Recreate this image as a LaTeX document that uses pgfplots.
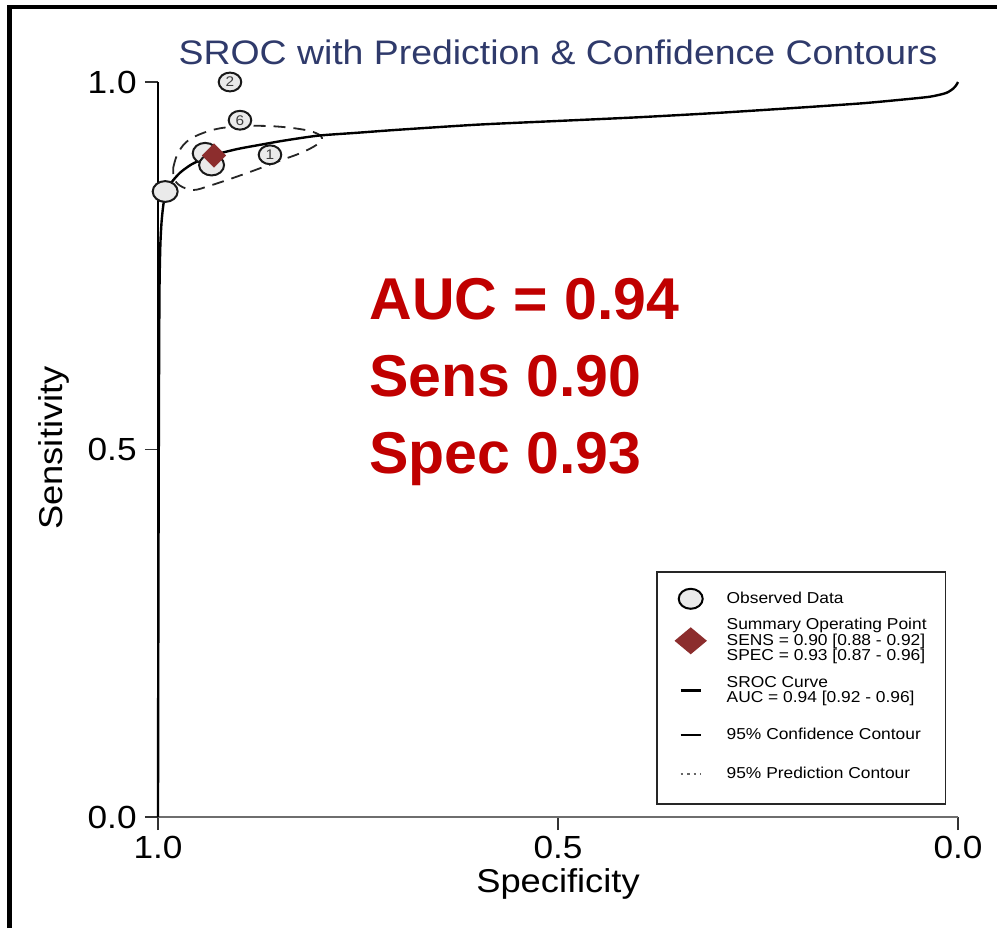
\documentclass[border=0pt]{standalone}
\usepackage{fontspec}
\setmainfont{Liberation Sans}
\newfontfamily\chartfont[FakeStretch=1.1]{Liberation Sans}
\usepackage{pgfplots}
\pgfplotsset{compat=1.18}

\definecolor{titleblue}{RGB}{47,58,107}
\definecolor{sumred}{RGB}{140,45,45}
\definecolor{bigred}{RGB}{192,0,0}
\definecolor{ptfill}{RGB}{234,234,234}
\definecolor{xlinegray}{RGB}{110,110,110}

\begin{document}
\begin{tikzpicture}
\useasboundingbox (0,0) rectangle (498.5pt,464pt);
\fill[white] (0,0) rectangle (498.5pt,464pt);

\begin{axis}[
  at={(79pt,55.5pt)}, anchor=south west,
  scale only axis, width=400pt, height=367.5pt,
  xmin=0, xmax=1, ymin=0, ymax=1,
  x dir=reverse,
  axis x line*=bottom, axis y line*=left,
  x axis line style={-, line width=1.3pt, xlinegray},
  y axis line style={-, line width=1pt, black},
  clip=false,
  xtick={0,0.5,1}, ytick={0,0.5,1},
  xticklabels={0.0,0.5,1.0}, yticklabels={0.0,0.5,1.0},
  /pgf/number format/assume math mode=true,
  tick align=outside, major tick length=6.5pt,
  tick style={black!80, line width=0.8pt},
  tick label style={font=\chartfont\fontsize{16}{18}\selectfont},
  xticklabel style={inner sep=3pt},
  yticklabel style={inner sep=4pt},
  xlabel={Specificity}, ylabel={Sensitivity},
  label style={font=\chartfont\fontsize{16.5}{19}\selectfont},
  xlabel style={at={(axis description cs:0.5,-0.1034)}, anchor=base},
  ylabel style={at={(axis description cs:-0.11875,0.502)}, anchor=base},
  legend image code/.code={\draw[mark repeat=2, mark phase=2, #1] plot coordinates {(0pt,0pt) (5pt,0pt) (10pt,0pt)};},
  legend cell align=left,
  legend style={at={(axis description cs:0.6225,0.3347)}, anchor=north west,
    draw=black!85, line width=0.8pt, fill=white,
    inner xsep=9.5pt, inner ysep=4.5pt, row sep=0pt,
    font=\chartfont\fontsize{7.9}{7.7}\selectfont,
    nodes={inner sep=0pt},
    /tikz/every odd column/.append style={column sep=10.5pt}},
]

% individual studies
\addplot[only marks, mark=*, mark size=5.2pt,
  mark options={fill=ptfill, draw=black!90, line width=1pt, xscale=1.2},
  forget plot] coordinates {(0.991,0.851) (0.941,0.903) (0.933,0.887)};
\addplot[only marks, mark=*, mark size=4.7pt,
  mark options={fill=ptfill, draw=black!90, line width=1pt, xscale=1.2},
  point meta=explicit symbolic, nodes near coords, nodes near coords align=center,
  every node near coord/.append style={font=\chartfont\fontsize{7}{7}\selectfont, text=black!75, inner sep=0pt},
  forget plot] coordinates {(0.91,1.0) [2] (0.8975,0.948) [6] (0.86,0.901) [1]};

% 95% contour around the summary point
\addplot[black!85, line width=0.9pt, dash pattern=on 6pt off 4pt, smooth, tension=0.6, forget plot]
coordinates {
(0.981,0.883) (0.976,0.901) (0.965,0.918) (0.9475,0.929) (0.9225,0.937)
(0.891,0.940) (0.860,0.940) (0.829,0.937) (0.806,0.932) (0.795,0.924)
(0.8025,0.914) (0.8225,0.903) (0.8475,0.893) (0.879,0.880) (0.910,0.868)
(0.935,0.859) (0.956,0.853) (0.9725,0.859) (0.980,0.869) (0.981,0.883)
};

% SROC curve
\addplot[black, line width=1.2pt, smooth, tension=0.4, forget plot]
coordinates {
(1.0,0.0) (0.9995,0.30) (0.999,0.50) (0.9985,0.65) (0.998,0.73) (0.997,0.78)
(0.9955,0.81) (0.993,0.835) (0.989,0.852) (0.982,0.865) (0.972,0.877)
(0.958,0.888) (0.940,0.897) (0.926,0.902) (0.90,0.909) (0.87,0.915)
(0.844,0.920) (0.80,0.927) (0.75,0.931) (0.70,0.935) (0.60,0.942)
(0.50,0.947) (0.40,0.952) (0.30,0.958) (0.20,0.965) (0.12,0.971)
(0.07,0.976) (0.035,0.980) (0.015,0.985) (0.006,0.991) (0.002,0.996) (0.0,1.0)
};

% summary operating point
\addplot[only marks, mark=square*, mark size=4.1pt,
  mark options={rotate=45, fill=sumred, draw=sumred}, forget plot]
  coordinates {(0.93,0.90)};

\addlegendimage{only marks, mark=*, mark size=5pt, mark options={fill=ptfill, draw=black, line width=1pt, xscale=1.2}}
\addlegendentry[minimum height=18pt]{Observed Data}
\addlegendimage{only marks, mark=square*, mark size=4.4pt, mark options={xscale=1.2, rotate=45, fill=sumred, draw=sumred}}
\addlegendentry[align=left, minimum height=24pt]{Summary Operating Point\\SENS = 0.90 [0.88 - 0.92]\\SPEC = 0.93 [0.87 - 0.96]}
\addlegendimage{black, line width=1.5pt}
\addlegendentry[align=left, minimum height=26pt]{SROC Curve\\AUC = 0.94 [0.92 - 0.96]}
\addlegendimage{black, line width=0.9pt}
\addlegendentry[minimum height=18pt]{95\% Confidence Contour}
\addlegendimage{black!60, line width=0.8pt, dash pattern=on 1.2pt off 2pt}
\addlegendentry[minimum height=21pt]{95\% Prediction Contour}
\end{axis}

% title and summary annotation
\node[anchor=base, inner sep=0pt, text=titleblue, font=\chartfont\fontsize{17}{20}\selectfont]
  at (279pt,431.5pt) {SROC with Prediction \& Confidence Contours};
\node[anchor=base west, inner sep=0pt, text=bigred, font=\fontsize{29.5}{35}\selectfont\bfseries]
  at (184.5pt,304pt) {AUC = 0.94};
\node[anchor=base west, inner sep=0pt, text=bigred, font=\fontsize{29.5}{35}\selectfont\bfseries]
  at (184.5pt,265.65pt) {Sens 0.90};
\node[anchor=base west, inner sep=0pt, text=bigred, font=\fontsize{29.5}{35}\selectfont\bfseries]
  at (184.5pt,227.35pt) {Spec 0.93};

% frame
\draw[line width=2.3pt, black, line join=miter] (4.6pt,0pt) -- (4.6pt,460.5pt) -- (498.5pt,460.5pt);
\end{tikzpicture}
\end{document}
